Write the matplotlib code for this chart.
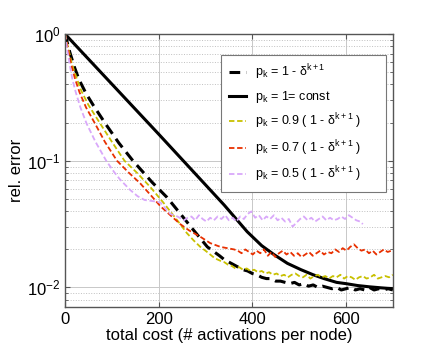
import matplotlib
matplotlib.use("Agg")
import matplotlib.pyplot as plt
import numpy as np

plt.rcParams['font.family'] = ['Liberation Sans', 'DejaVu Sans']
plt.rcParams['mathtext.fontset'] = 'custom'
plt.rcParams['mathtext.rm'] = 'Liberation Sans'
plt.rcParams['mathtext.it'] = 'Liberation Sans:italic'

# values: cost, log10(rel. error)
x_const = [0, 100, 200, 300, 340, 389, 420, 446, 475, 504, 530, 553, 580, 600, 625, 650, 675, 700]
y_const = [0, -0.395, -0.79, -1.19, -1.35, -1.56, -1.67, -1.74, -1.81, -1.86, -1.90, -1.93, -1.96, -1.97, -1.985, -1.995, -2.003, -2.01]

x_dash = [0, 10, 20, 30, 45, 60, 86, 115, 145, 186, 218, 246, 275, 304, 330, 340, 350, 360, 370, 380, 390, 400,
          410, 420, 430, 440, 450, 460, 470, 480, 490, 500, 510, 520, 530, 540, 550, 560, 570, 580, 590, 600,
          610, 620, 630, 640, 650, 660, 670, 680, 690, 700]
y_dash = [0, -0.14, -0.26, -0.36, -0.47, -0.56, -0.706, -0.86, -1.0, -1.17, -1.29, -1.417, -1.55, -1.68, -1.75, -1.78, -1.80, -1.82, -1.84, -1.86, -1.87, -1.89,
          -1.90, -1.92, -1.93, -1.93, -1.95, -1.95, -1.96, -1.97, -1.96, -1.98, -1.97, -1.99, -1.98, -2.0, -1.99, -2.0, -2.01, -2.0, -2.02, -2.01,
          -2.0, -2.02, -2.01, -2.02, -2.0, -2.02, -2.01, -2.02, -2.01, -2.02]

x_09 = [0, 8, 15, 25, 35, 50, 75, 100, 127, 155, 182, 210, 246, 260, 275, 289, 300, 310, 320, 332, 340, 348, 356, 364, 372, 380,
        388, 396, 404, 412, 420, 428, 436, 444, 452, 460, 468, 476, 484, 492, 500, 508, 516, 524, 532, 540, 548, 556, 564, 572,
        580, 588, 596, 604, 612, 620, 628, 636, 644, 652, 660, 668, 676, 684, 692, 700]
y_09 = [0, -0.13, -0.24, -0.35, -0.45, -0.56, -0.706, -0.85, -1.0, -1.10, -1.207, -1.33, -1.50, -1.57, -1.63, -1.68, -1.71, -1.74, -1.77, -1.79, -1.80, -1.82, -1.83, -1.85, -1.84, -1.86,
        -1.85, -1.87, -1.86, -1.88, -1.87, -1.89, -1.88, -1.90, -1.89, -1.91, -1.90, -1.92, -1.90, -1.89, -1.91, -1.92, -1.90, -1.93, -1.91, -1.90, -1.92, -1.91, -1.93, -1.91,
        -1.92, -1.90, -1.93, -1.91, -1.92, -1.94, -1.92, -1.91, -1.93, -1.92, -1.90, -1.93, -1.92, -1.91, -1.92, -1.90]

x_07 = [0, 7, 13, 22, 31, 45, 64, 85, 111, 135, 161, 185, 204, 225, 246, 265, 289, 310, 332, 361, 369, 377, 385, 393,
        401, 409, 417, 425, 433, 441, 449, 457, 465, 473, 481, 489, 497, 505, 513, 521, 529, 537, 545, 553, 561, 569,
        577, 585, 593, 601, 609, 617, 625, 633, 641, 649, 657, 665, 673, 681, 689, 697]
y_07 = [0, -0.13, -0.24, -0.36, -0.46, -0.58, -0.706, -0.85, -1.0, -1.09, -1.18, -1.28, -1.36, -1.43, -1.50, -1.55, -1.60, -1.65, -1.68, -1.70, -1.71, -1.73, -1.70, -1.72,
        -1.74, -1.71, -1.73, -1.70, -1.75, -1.72, -1.76, -1.73, -1.71, -1.74, -1.72, -1.75, -1.73, -1.76, -1.74, -1.72, -1.75, -1.73, -1.71, -1.74, -1.72, -1.73,
        -1.70, -1.72, -1.69, -1.71, -1.68, -1.66, -1.69, -1.71, -1.70, -1.73, -1.71, -1.74, -1.72, -1.70, -1.72, -1.71]

x_05 = [0, 5, 10, 16, 23, 33, 46, 65, 88, 105, 118, 139, 155, 170, 190, 204, 215, 225, 240, 254,
        262, 270, 278, 286, 294, 302, 310, 318, 326, 334, 342, 350, 358, 366, 374, 382, 390, 398, 406, 414,
        422, 430, 438, 446, 454, 462, 470, 478, 486, 494, 502, 510, 518, 526, 534, 542, 550, 558, 566, 574,
        582, 590, 598, 606, 614, 622, 630, 636]
y_05 = [0, -0.13, -0.24, -0.36, -0.46, -0.58, -0.706, -0.85, -1.0, -1.09, -1.15, -1.23, -1.28, -1.31, -1.32, -1.33, -1.38, -1.42, -1.44, -1.47,
        -1.45, -1.44, -1.47, -1.43, -1.46, -1.48, -1.45, -1.47, -1.44, -1.46, -1.43, -1.47, -1.45, -1.48, -1.44, -1.46, -1.42, -1.40, -1.45, -1.43,
        -1.47, -1.44, -1.46, -1.43, -1.47, -1.45, -1.48, -1.46, -1.52, -1.49, -1.46, -1.44, -1.47, -1.45, -1.48, -1.46, -1.44, -1.47, -1.45, -1.47,
        -1.46, -1.44, -1.46, -1.43, -1.45, -1.47, -1.48, -1.50]

labels = [r'$\mathrm{p_k}$ = 1 - $\mathrm{\delta^{k+1}}$',
          r'$\mathrm{p_k}$ = 1= const',
          r'$\mathrm{p_k}$ = 0.9 ( 1 - $\mathrm{\delta^{k+1}}$ )',
          r'$\mathrm{p_k}$ = 0.7 ( 1 - $\mathrm{\delta^{k+1}}$ )',
          r'$\mathrm{p_k}$ = 0.5 ( 1 - $\mathrm{\delta^{k+1}}$ )']

fig = plt.figure(figsize=(4.43, 3.6), dpi=100)
ax = fig.add_axes([0.1467, 0.147, 0.740, 0.7586])

ax.plot(x_dash, 10 ** np.array(y_dash), color='black', lw=2.2, ls=(0, (3.5, 2)), label=labels[0])
ax.plot(x_const, 10 ** np.array(y_const), color='black', lw=2.2, label=labels[1])
ax.plot(x_09, 10 ** np.array(y_09), color='#c8c000', lw=1.3, ls=(0, (3, 1.5)), label=labels[2])
ax.plot(x_07, 10 ** np.array(y_07), color='#e83000', lw=1.3, ls=(0, (3, 1.5)), label=labels[3])
ax.plot(x_05, 10 ** np.array(y_05), color='#d9a8fa', lw=1.3, ls=(0, (3, 1.5)), label=labels[4])

ax.set_yscale('log')
ax.set_xlim(0, 700)
ax.set_ylim(0.007, 1)
ax.set_xticks([0, 200, 400, 600])
ax.grid(True, which='major', color='#c8c8c8', lw=0.7)
ax.grid(True, which='minor', axis='y', color='#c0c0c0', lw=0.7, ls=':')
ax.tick_params(which='both', direction='in', top=True, right=True, labelsize=12, color='#555555')
ax.tick_params(axis='y', pad=3)
for s in ax.spines.values():
    s.set_color('#555555')
    s.set_linewidth(1.0)

ax.set_xlabel('total cost (# activations per node)', fontsize=12, labelpad=1)
ax.set_ylabel('rel. error', fontsize=12)
ax.yaxis.set_label_coords(-0.125, 0.5)

leg = ax.legend(loc='upper left', bbox_to_anchor=(0.476, 0.923, 0.503, 0), mode='expand', borderaxespad=0,
                fontsize=9, fancybox=False, framealpha=1, edgecolor='#777777',
                handlelength=1.4, handletextpad=0.7, labelspacing=0.55, borderpad=0.6)
leg.get_frame().set_linewidth(0.8)

fig.savefig('out.png', dpi=100)
